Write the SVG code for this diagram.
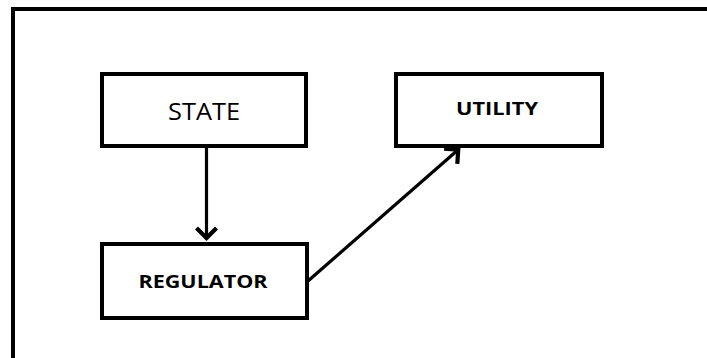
<svg xmlns="http://www.w3.org/2000/svg" width="707" height="358" viewBox="0 0 707 358">
  <style>
    .box { fill: #ffffff; stroke: #000000; stroke-width: 4; }
    .frame { fill: none; stroke: #000000; stroke-width: 4; }
    .edge { fill: none; stroke: #000000; stroke-width: 3.2; }
    .label { font-family: "Open Sans", "Noto Sans", "Liberation Sans", sans-serif; fill: #000000; text-anchor: middle; }
    .plain { font-size: 24px; }
    .strong { font-size: 18px; font-weight: bold; }
  </style>
  <defs>
    <marker id="chevron" markerUnits="userSpaceOnUse" viewBox="-16 -13 18 26" refX="0" refY="0" markerWidth="18" markerHeight="26" orient="auto" overflow="visible">
      <path d="M-11,-10 L-1,0 L-11,10" fill="none" stroke="#000000" stroke-width="4.2" stroke-linejoin="miter"/>
    </marker>
  </defs>

  <rect width="707" height="358" fill="#ffffff"/>

  <!-- outer frame, open at the right and bottom -->
  <path class="frame" d="M13,358 L13,9 L707,9"/>

  <g id="connectors">
    <line class="edge" x1="206.5" y1="148" x2="206.5" y2="239" marker-end="url(#chevron)"/>
    <line class="edge" x1="308" y1="281" x2="459" y2="149" marker-end="url(#chevron)"/>
  </g>

  <g id="state">
    <rect class="box" x="102" y="74" width="204" height="72"/>
    <text class="label plain" x="204" y="120" textLength="72" lengthAdjust="spacingAndGlyphs">STATE</text>
  </g>

  <g id="utility">
    <rect class="box" x="396" y="74" width="206" height="72"/>
    <text class="label strong" x="497" y="115" textLength="82" lengthAdjust="spacingAndGlyphs">UTILITY</text>
  </g>

  <g id="regulator">
    <rect class="box" x="102" y="244" width="205" height="74"/>
    <text class="label strong" x="203" y="288" textLength="129" lengthAdjust="spacingAndGlyphs">REGULATOR</text>
  </g>
</svg>
